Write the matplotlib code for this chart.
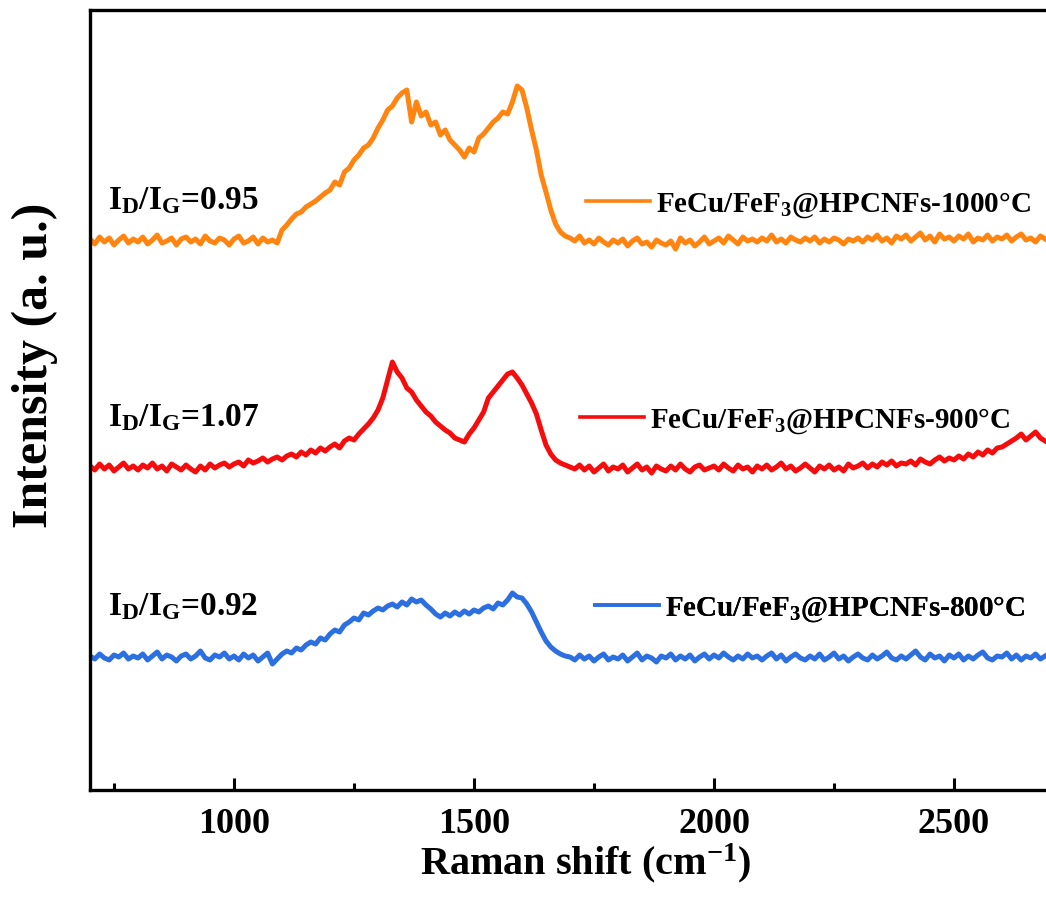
import numpy as np
import matplotlib
matplotlib.use("Agg")
import matplotlib.pyplot as plt

# ---------------- Raman spectra (stacked, a.u.) ----------------
shift = np.arange(700, 2700, 10)

i_1000 = [
    551, 546, 553, 548, 552, 545, 550, 554, 547, 551,
    548, 553, 546, 550, 555, 547, 549, 552, 545, 551,
    553, 548, 551, 546, 554, 549, 547, 552, 550, 545,
    551, 554, 547, 549, 553, 546, 552, 548, 550, 547,
    560, 565, 571, 576, 578, 583, 586, 589, 593, 597,
    600, 608, 605, 618, 622, 630, 635, 642, 645, 652,
    662, 670, 680, 684, 692, 697, 700, 668, 688, 674,
    678, 665, 668, 655, 660, 650, 645, 640, 633, 642,
    638, 652, 656, 662, 668, 672, 678, 676, 688, 704,
    700, 682, 660, 640, 615, 598, 580, 566, 558, 554,
    552, 549, 554, 547, 550, 546, 552, 548, 545, 550,
    547, 551, 544, 549, 552, 546, 548, 543, 550, 547,
    545, 549, 541, 552, 547, 550, 544, 548, 553, 546,
    549, 552, 547, 554, 550, 546, 553, 549, 551, 548,
    552, 549, 555, 548, 551, 547, 553, 550, 548, 552,
    549, 553, 547, 551, 548, 552, 550, 546, 551, 549,
    552, 548, 553, 550, 555, 549, 552, 547, 554, 551,
    555, 549, 553, 557, 550, 554, 548, 556, 551, 553,
    549, 554, 551, 556, 548, 552, 550, 555, 549, 553,
    551, 555, 549, 553, 556, 550, 552, 548, 554, 551,
]

i_900 = [
    324, 320, 326, 321, 325, 319, 323, 327, 321, 324,
    320, 325, 322, 327, 321, 324, 319, 326, 323, 320,
    325, 321, 318, 324, 320, 326, 322, 325, 327, 323,
    326, 328, 324, 330, 327, 329, 332, 328, 331, 333,
    330, 334, 336, 333, 338, 335, 340, 337, 342, 339,
    343, 346, 342, 349, 352, 350, 356, 361, 366, 372,
    380, 392, 410, 428, 418, 412, 402, 398, 390, 384,
    378, 374, 368, 364, 360, 357, 352, 350, 348, 356,
    362, 370, 378, 392, 398, 404, 410, 416, 418, 412,
    405, 396, 387, 376, 360, 345, 336, 330, 327, 325,
    323, 321, 325, 320, 324, 318, 322, 326, 319, 323,
    321, 325, 318, 322, 326, 320, 323, 317, 324, 321,
    319, 324, 320, 326, 321, 318, 323, 325, 320, 322,
    324, 320, 326, 322, 319, 325, 321, 323, 318, 324,
    321, 325, 320, 323, 327, 321, 324, 319, 322, 326,
    322, 318, 324, 321, 325, 320, 323, 319, 326, 322,
    324, 327, 322, 326, 323, 328, 325, 329, 324, 327,
    326, 329, 325, 331, 328, 326, 330, 333, 329, 332,
    330, 334, 331, 336, 333, 338, 335, 340, 337, 342,
    343, 346, 349, 352, 356, 350, 354, 358, 352, 349,
]

i_800 = [
    134, 131, 136, 132, 130, 135, 133, 137, 131, 134,
    132, 136, 130, 134, 138, 131, 135, 133, 129, 134,
    136, 131, 134, 139, 132, 130, 135, 133, 137, 131,
    134, 130, 136, 132, 135, 129, 133, 137, 126, 131,
    136, 139, 137, 142, 140, 145, 148, 146, 152, 150,
    156, 160, 158, 165, 168, 172, 170, 177, 175, 179,
    182, 180, 184, 186, 183, 188, 185, 191, 188, 190,
    185, 181, 176, 173, 177, 174, 178, 175, 179, 176,
    180, 178, 182, 184, 181, 187, 185, 190, 197, 193,
    192, 186, 178, 168, 158, 149, 143, 139, 136, 134,
    133, 130, 135, 131, 134, 129, 133, 136, 130, 133,
    131, 135, 129, 133, 137, 130, 134, 132, 128, 134,
    132, 136, 130, 134, 131, 135, 129, 133, 136, 131,
    135, 132, 137, 133, 130, 134, 131, 136, 132, 134,
    130, 134, 137, 131, 135, 129, 133, 136, 132, 130,
    134, 131, 136, 130, 133, 137, 131, 134, 129, 133,
    136, 132, 130, 135, 131, 134, 138, 132, 130, 134,
    131, 135, 139, 133, 130, 136, 132, 134, 129, 135,
    132, 136, 130, 134, 131, 135, 138, 132, 130, 134,
    133, 137, 131, 135, 130, 134, 132, 136, 131, 134,
]

labels = ["FeCu/FeF$_3$@HPCNFs-1000\u00b0C",
          "FeCu/FeF$_3$@HPCNFs-900\u00b0C",
          "FeCu/FeF$_3$@HPCNFs-800\u00b0C"]
ratios = ["0.95", "1.07", "0.92"]
colors = ["#ff8410", "#f50c0c", "#2c6fe0"]

# ---------------- style ----------------
plt.rcParams["font.family"] = ["Liberation Serif", "DejaVu Serif"]
plt.rcParams["font.weight"] = "bold"
plt.rcParams["mathtext.fontset"] = "custom"
plt.rcParams["mathtext.rm"] = "Liberation Serif:bold"
plt.rcParams["mathtext.it"] = "Liberation Serif:bold"
plt.rcParams["mathtext.bf"] = "Liberation Serif:bold"

fig = plt.figure(figsize=(10.46, 8.98), dpi=100)
# right spine sits just past the figure edge
ax = fig.add_axes([90 / 1046, 108 / 898, 960 / 1046, 780 / 898])

series = [i_1000, i_900, i_800]
lines = []
for y, c, lab in zip(series, colors, labels):
    ln, = ax.plot(shift, y, color=c, lw=3.6, label=lab)
    lines.append(ln)

ax.set_xticks([1000, 1500, 2000, 2500])
ax.set_xticks([750, 1250, 1750, 2250], minor=True)
ax.set_yticks([])
# limits after the ticks, otherwise set_xticks widens the view
ax.set_xlim(700, 2700)
ax.set_ylim(0, 780)
ax.tick_params(axis="x", which="major", direction="in", length=9, width=2.2,
               labelsize=26, pad=13)
ax.tick_params(axis="x", which="minor", direction="in", length=5, width=2.2)
for sp in ax.spines.values():
    sp.set_linewidth(2.4)

ax.set_xlabel("Raman shift (cm$^{-1}$)", fontsize=29, fontweight="bold")
ax.xaxis.set_label_coords(0.516, -0.066)
ax.set_ylabel("Intensity (a. u.)", fontsize=36, fontweight="bold")
ax.yaxis.set_label_coords(-0.033, 0.545)

# I_D/I_G labels and per-curve legend entries
text_y = [0.756, 0.477, 0.235]
leg_pos = [(0.517, 0.75), (0.510, 0.473), (0.526, 0.232)]
for ln, r, ty, pos in zip(lines, ratios, text_y, leg_pos):
    ax.text(0.019, ty, "I$_{D}$/I$_{G}$=" + r, transform=ax.transAxes,
            fontsize=24, fontweight="bold", va="center", ha="left")
    leg = ax.legend(handles=[ln], loc="center left", bbox_to_anchor=pos,
                    frameon=False, fontsize=21, handlelength=2.2,
                    handletextpad=0.2, borderpad=0, borderaxespad=0)
    for h in leg.legend_handles:
        h.set_linewidth(2.6)
    ax.add_artist(leg)

fig.savefig("out.png", dpi=100)
